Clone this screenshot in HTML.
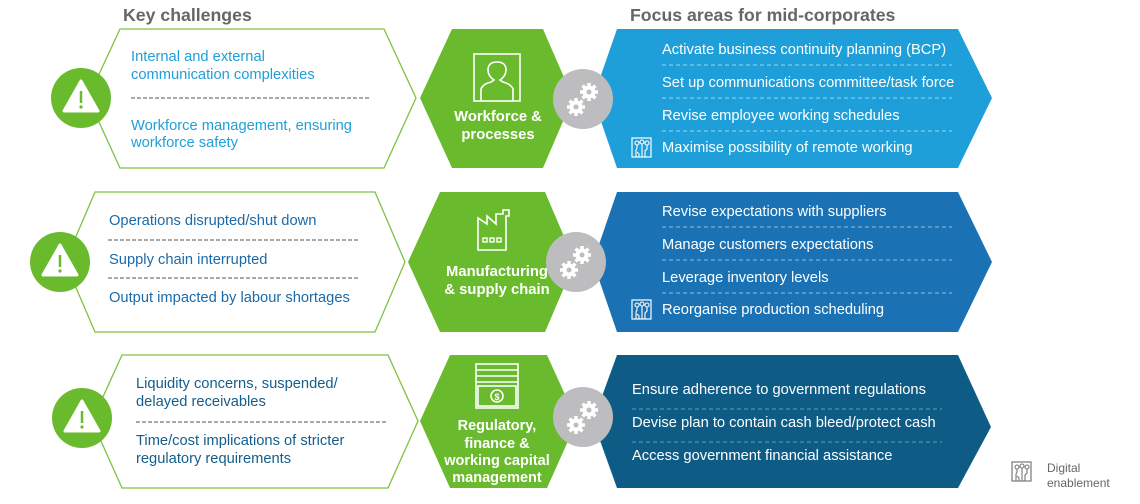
<!DOCTYPE html>
<html><head><meta charset="utf-8"><style>
body{margin:0;background:#fff;}
svg{display:block;font-family:"Liberation Sans",Arial,sans-serif;}
</style></head><body>
<svg width="1140" height="504" viewBox="0 0 1140 504">
<defs>
<g id="gear">
<circle r="30" fill="#bdbdbf"/>
<g fill="#fff">
<g transform="translate(6,-7)"><circle r="6.5"/><g stroke="#fff" stroke-width="3.5"><line x1="0" y1="-9" x2="0" y2="9"/><line x1="-9" y1="0" x2="9" y2="0"/><line x1="-6.4" y1="-6.4" x2="6.4" y2="6.4"/><line x1="-6.4" y1="6.4" x2="6.4" y2="-6.4"/></g><circle r="2.5" fill="#bdbdbf"/></g>
<g transform="translate(-7,8)"><circle r="6.5"/><g stroke="#fff" stroke-width="3.5"><line x1="0" y1="-9" x2="0" y2="9"/><line x1="-9" y1="0" x2="9" y2="0"/><line x1="-6.4" y1="-6.4" x2="6.4" y2="6.4"/><line x1="-6.4" y1="6.4" x2="6.4" y2="-6.4"/></g><circle r="2.5" fill="#bdbdbf"/></g>
</g>
</g>
<g id="warn">
<circle r="30" fill="#6aba2e"/>
<path d="M0,-17 L17,13 L-17,13 Z" fill="#fff" stroke="#fff" stroke-width="3" stroke-linejoin="round"/>
<line x1="0" y1="-7" x2="0" y2="5" stroke="#6aba2e" stroke-width="2.5"/>
<circle cx="0" cy="9" r="1.6" fill="#6aba2e"/>
</g>
<g id="dig">
<rect x="0" y="0" width="19" height="19" fill="none" stroke-width="1.2"/>
<g fill="none" stroke-width="1.1">
<circle cx="5" cy="5" r="2"/><circle cx="10" cy="4" r="2"/><circle cx="15" cy="5" r="2"/>
<path d="M5,7 V10 L4,12 V19 M10,6 V19 M15,7 V11 L13,13 V19 M5,14 L7,16 V19"/>
</g>
</g>
</defs>

<text x="123" y="21" font-size="17.7" font-weight="bold" fill="#666">Key challenges</text>
<text x="630" y="21" font-size="17.7" font-weight="bold" fill="#666">Focus areas for mid-corporates</text>

<!-- Row 1 -->
<polygon points="120,29 384,29 416,98 384,168 120,168 88,98" fill="#fff" stroke="#7dc242" stroke-width="1.3"/>
<use href="#warn" x="81" y="98"/>
<polygon points="452,29 543,29 573,98 543,168 452,168 420,98" fill="#6aba2e"/>
<polygon points="617,29 958,29 992,98 958,168 617,168 593,98" fill="#1e9fd9"/>
<use href="#gear" x="583" y="99"/>
<g font-size="14.7" fill="#1e9fd9">
<text x="131" y="61">Internal and external</text>
<text x="131" y="79">communication complexities</text>
<text x="131" y="130">Workforce management, ensuring</text>
<text x="131" y="147">workforce safety</text>
</g>
<line x1="131" y1="98" x2="371" y2="98" stroke="#555" stroke-width="1" stroke-dasharray="4,2"/>
<rect x="474" y="54" width="46" height="47" fill="none" stroke="#fff" stroke-width="1.6"/>
<path d="M481,101 V89 Q483,84 491,82 L494,80 Q488,76 488,70 Q488,62 497,62 Q506,62 506,70 Q506,76 500,80 L503,82 Q511,84 513,89 V101" fill="none" stroke="#fff" stroke-width="1.6"/>
<g font-size="14.8" font-weight="bold" fill="#fff" text-anchor="middle">
<text x="498" y="121">Workforce &amp;</text>
<text x="498" y="139">processes</text>
</g>
<g font-size="14.7" fill="#fff">
<text x="662" y="54">Activate business continuity planning (BCP)</text>
<text x="662" y="87">Set up communications committee/task force</text>
<text x="662" y="120">Revise employee working schedules</text>
<text x="662" y="152">Maximise possibility of remote working</text>
</g>
<g stroke="#9fd3ef" stroke-width="1" stroke-dasharray="4,3">
<line x1="662" y1="65" x2="952" y2="65"/><line x1="662" y1="98" x2="952" y2="98"/><line x1="662" y1="131" x2="952" y2="131"/>
</g>
<use href="#dig" x="632" y="138" stroke="#fff"/>

<!-- Row 2 -->
<polygon points="95,192 375,192 405,262 375,332 95,332 65,262" fill="#fff" stroke="#7dc242" stroke-width="1.3"/>
<use href="#warn" x="60" y="262"/>
<polygon points="440,192 545,192 575,262 545,332 440,332 408,262" fill="#6aba2e"/>
<polygon points="617,192 958,192 992,262 958,332 617,332 593,262" fill="#1a72b4"/>
<use href="#gear" x="576" y="262"/>
<g font-size="14.7" fill="#1a6aaa">
<text x="109" y="225">Operations disrupted/shut down</text>
<text x="109" y="264">Supply chain interrupted</text>
<text x="109" y="302">Output impacted by labour shortages</text>
</g>
<g stroke="#555" stroke-width="1" stroke-dasharray="4,2">
<line x1="108" y1="240" x2="358" y2="240"/><line x1="108" y1="278" x2="358" y2="278"/>
</g>
<path d="M478,250 V218 L487,224 V216 L496,224 V214 H503 V210 H509 V216 H506 V250 Z" fill="none" stroke="#fff" stroke-width="1.6"/>
<g fill="none" stroke="#fff" stroke-width="1.4"><rect x="483" y="238" width="4" height="4"/><rect x="490" y="238" width="4" height="4"/><rect x="497" y="238" width="4" height="4"/></g>
<g font-size="14.8" font-weight="bold" fill="#fff" text-anchor="middle">
<text x="497" y="276">Manufacturing</text>
<text x="497" y="294">&amp; supply chain</text>
</g>
<g font-size="14.7" fill="#fff">
<text x="662" y="216">Revise expectations with suppliers</text>
<text x="662" y="249">Manage customers expectations</text>
<text x="662" y="282">Leverage inventory levels</text>
<text x="662" y="314">Reorganise production scheduling</text>
</g>
<g stroke="#8fbde0" stroke-width="1" stroke-dasharray="4,3">
<line x1="662" y1="227" x2="952" y2="227"/><line x1="662" y1="260" x2="952" y2="260"/><line x1="662" y1="293" x2="952" y2="293"/>
</g>
<use href="#dig" x="632" y="300" stroke="#fff"/>

<!-- Row 3 -->
<polygon points="122,355 388,355 418,421 388,488 122,488 92,421" fill="#fff" stroke="#7dc242" stroke-width="1.3"/>
<use href="#warn" x="82" y="418"/>
<polygon points="450,355 547,355 577,421 547,488 450,488 420,421" fill="#6aba2e"/>
<polygon points="617,355 958,355 991,427 958,488 617,488 593,421" fill="#0e5c85"/>
<use href="#gear" x="583" y="417"/>
<g font-size="14.7" fill="#135e8c">
<text x="136" y="388">Liquidity concerns, suspended/</text>
<text x="136" y="406">delayed receivables</text>
<text x="136" y="445">Time/cost implications of stricter</text>
<text x="136" y="463">regulatory requirements</text>
</g>
<line x1="136" y1="422" x2="386" y2="422" stroke="#555" stroke-width="1" stroke-dasharray="4,2"/>
<g fill="none" stroke="#fff" stroke-width="1.6">
<rect x="476" y="364" width="42" height="44"/>
<line x1="476" y1="370" x2="518" y2="370"/><line x1="476" y1="376" x2="518" y2="376"/><line x1="476" y1="382" x2="518" y2="382"/>
<rect x="478" y="386" width="38" height="20"/>
<circle cx="497" cy="396" r="6"/>
</g>
<text x="497" y="400" font-size="9" font-weight="bold" fill="#fff" text-anchor="middle">$</text>
<g font-size="14.5" font-weight="bold" fill="#fff" text-anchor="middle">
<text x="497" y="430">Regulatory,</text>
<text x="497" y="448">finance &amp;</text>
<text x="497" y="465">working capital</text>
<text x="497" y="482">management</text>
</g>
<g font-size="14.7" fill="#fff">
<text x="632" y="394">Ensure adherence to government regulations</text>
<text x="632" y="427">Devise plan to contain cash bleed/protect cash</text>
<text x="632" y="460">Access government financial assistance</text>
</g>
<g stroke="#6a9ab8" stroke-width="1" stroke-dasharray="4,3">
<line x1="632" y1="409" x2="942" y2="409"/><line x1="632" y1="442" x2="942" y2="442"/>
</g>

<use href="#dig" x="1012" y="462" stroke="#777"/>
<g font-size="12" fill="#666">
<text x="1047" y="472">Digital</text>
<text x="1047" y="487">enablement</text>
</g>
</svg>
</body></html>
